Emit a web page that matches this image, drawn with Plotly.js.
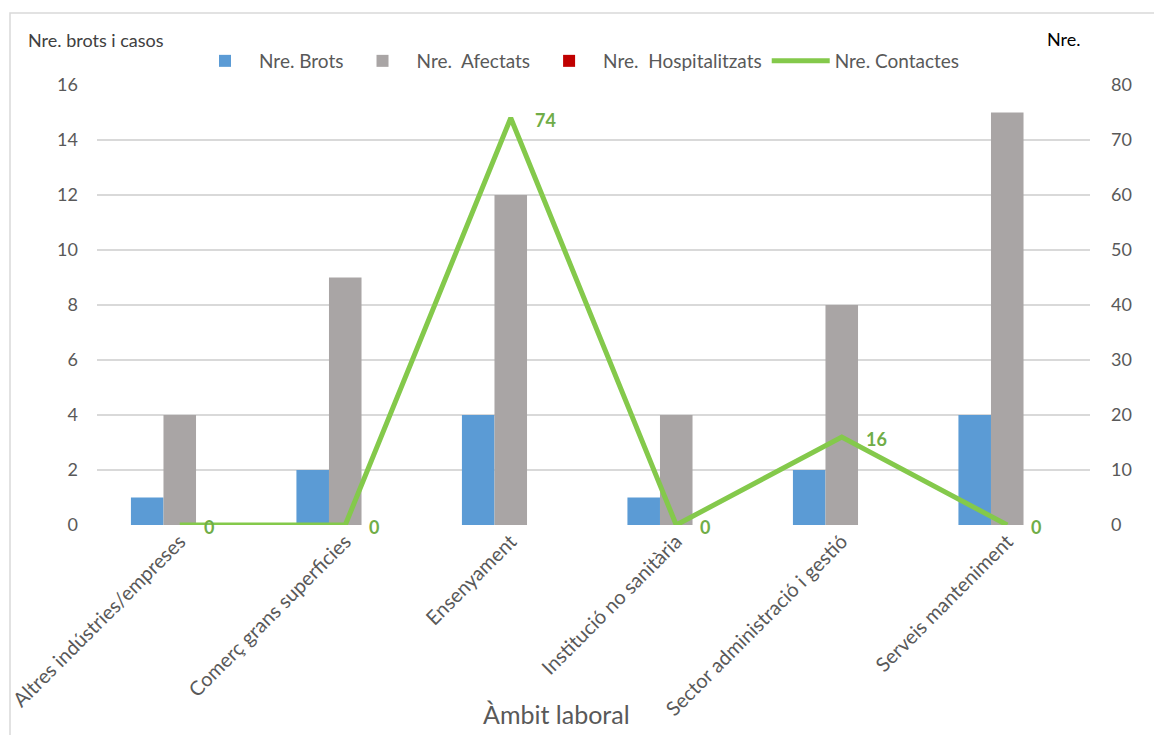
<!DOCTYPE html>
<html>
<head>
<meta charset="utf-8">
<script src="https://cdn.plot.ly/plotly-3.0.1.min.js"></script>
<style>html,body{margin:0;padding:0;background:#fff;}#chart{width:1154px;height:735px;}</style>
</head>
<body>
<div id="chart"></div>
<script>
const categories = ["Altres indústries/empreses", "Comerç grans superficies", "Ensenyament", "Institució no sanitària", "Sector administració i gestió", "Serveis manteniment"];
const brots = [1, 2, 4, 1, 2, 4];
const afectats = [4, 9, 12, 4, 8, 15];
const hospitalitzats = [0, 0, 0, 0, 0, 0];
const contactes = [0, 0, 74, 0, 16, 0];
const leftTicks = [0, 2, 4, 6, 8, 10, 12, 14, 16];
const rightTicks = [0, 10, 20, 30, 40, 50, 60, 70, 80];

const W = 1154, H = 735;
const L = 97, R = 64, T = 85, B = 210;
const pw = W - L - R, ph = H - T - B;
const px = x => (x - L) / pw;
const py = y => 1 - (y - T) / ph;

const FONT = "Lato, 'Open Sans', sans-serif";
const GREY_TXT = "#595959";

const traces = [
  {type: "bar", name: "Nre. Brots", x: categories, y: brots, marker: {color: "#5B9BD5"}},
  {type: "bar", name: "Nre.  Afectats", x: categories, y: afectats, marker: {color: "#A9A5A5"}},
  {type: "bar", name: "Nre.  Hospitalitzats", x: categories, y: hospitalitzats, marker: {color: "#C00000"}},
  {type: "scatter", mode: "lines", name: "Nre. Contactes", x: categories, y: contactes, yaxis: "y2",
   line: {color: "#84C94B", width: 5}}
];

const annotations = categories.map((c, i) => ({
  x: c, y: contactes[i], xref: "x", yref: "y2", text: String(contactes[i]),
  showarrow: false, xanchor: "left", yanchor: "middle", xshift: 22, yshift: -2,
  font: {family: FONT, size: 18, color: "#70AD47", weight: "bold"}
}));
annotations.push(
  {xref: "paper", yref: "paper", x: px(26), y: py(40), xanchor: "left", yanchor: "middle", showarrow: false,
   text: "Nre. brots i casos", font: {family: FONT, size: 18, color: "#404040"}},
  {xref: "paper", yref: "paper", x: px(1083), y: py(39), xanchor: "right", yanchor: "middle", showarrow: false,
   text: "Nre.", font: {family: FONT, size: 18, color: "#000000"}},
  {xref: "paper", yref: "paper", x: px(556), y: py(714), xanchor: "center", yanchor: "middle", showarrow: false,
   text: "Àmbit laboral", font: {family: FONT, size: 25, color: GREY_TXT}}
);

const layout = {
  width: W, height: H,
  margin: {l: L, r: R, t: T, b: B, pad: 0},
  paper_bgcolor: "#ffffff", plot_bgcolor: "#ffffff",
  font: {family: FONT, size: 18, color: GREY_TXT},
  barmode: "group", bargap: 0.41, bargroupgap: 0,
  showlegend: true,
  legend: {orientation: "h", x: px(578), xanchor: "center", y: py(61), yanchor: "middle", itemwidth: 58,
           font: {family: FONT, size: 19, color: GREY_TXT}, bgcolor: "rgba(0,0,0,0)", traceorder: "normal"},
  xaxis: {type: "category", tickangle: -45, showgrid: false, showline: false, zeroline: false, ticks: "",
          tickfont: {family: FONT, size: 20, color: GREY_TXT}, automargin: false},
  yaxis: {range: [0, 16], tickvals: leftTicks, showgrid: true, gridcolor: "#D9D9D9", gridwidth: 1.5,
          zeroline: false, showline: false, ticks: "", ticklabelstandoff: 18,
          tickfont: {family: FONT, size: 18, color: GREY_TXT}, automargin: false},
  yaxis2: {range: [0, 80], tickvals: rightTicks, overlaying: "y", side: "right", showgrid: false,
           zeroline: false, showline: false, ticks: "", ticklabelstandoff: 20,
           tickfont: {family: FONT, size: 18, color: GREY_TXT}, automargin: false},
  annotations: annotations,
  shapes: [
    {type: "rect", xref: "paper", yref: "paper", x0: px(10), x1: px(1200), y0: py(800), y1: py(13),
     line: {color: "#D9D9D9", width: 1.5}, fillcolor: "rgba(0,0,0,0)", layer: "below"}
  ]
};

Plotly.newPlot("chart", traces, layout, {displayModeBar: false, staticPlot: true});
</script>
</body>
</html>
